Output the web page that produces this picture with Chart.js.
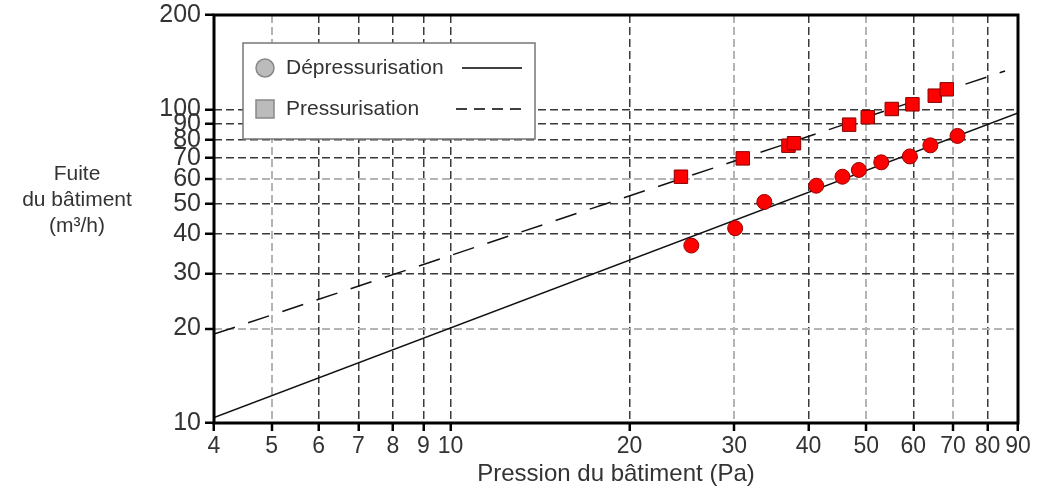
<!DOCTYPE html>
<html>
<head>
<meta charset="utf-8">
<script src="https://cdn.jsdelivr.net/npm/chart.js@4/dist/chart.umd.min.js"></script>
<style>
  html, body { margin: 0; padding: 0; background: #fff; }
  #wrap { position: relative; width: 1045px; height: 489px; }
  #ytitle {
    position: absolute; left: 0; top: 160px; width: 154px;
    text-align: center; font: 21px "Liberation Sans", Arial, sans-serif;
    line-height: 26px; color: #333;
  }
</style>
</head>
<body>
<div id="wrap">
  <canvas id="leakChart" width="1045" height="489"></canvas>
  <div id="ytitle">Fuite<br>du bâtiment<br>(m³/h)</div>
</div>
<script>
// measured points (Pa, m3/h)
const depPressure = [25.4, 30.1, 33.7, 41.2, 45.6, 48.6, 53.0, 59.2, 64.1, 71.2];
const depFlow = [36.8, 41.8, 50.7, 57.1, 61.0, 64.1, 67.8, 70.8, 76.8, 82.3];
const presPressure = [24.4, 31.0, 37.0, 37.8, 46.8, 50.3, 55.2, 59.8, 65.2, 68.3];
const presFlow = [61.0, 69.8, 76.6, 78.0, 89.4, 94.4, 100.3, 103.8, 110.6, 115.9];

// fitted lines (end points)
const depFitPressure = [4, 90];
const depFitFlow = [10.4, 97.5];
const presFitPressure = [4, 85.6];
const presFitFlow = [19.2, 132.6];

const xTicks = [4, 5, 6, 7, 8, 9, 10, 20, 30, 40, 50, 60, 70, 80, 90];
const yTicks = [10, 20, 30, 40, 50, 60, 70, 80, 90, 100, 200];
const xLightGrid = [5, 30, 50, 70];
const yLightGrid = [20, 60];

const toPoints = (xs, ys) => xs.map((x, i) => ({ x: x, y: ys[i] }));

const font = '"Liberation Sans", Arial, sans-serif';
const textColor = '#333';

const gridColor = (light) => (ctx) => {
  if (!ctx.tick) return '#3a3a3a';
  return light.includes(ctx.tick.value) ? '#b4b4b4' : '#3a3a3a';
};
const gridWidth = (light) => (ctx) => {
  if (!ctx.tick) return 1.5;
  return light.includes(ctx.tick.value) ? 2 : 1.5;
};

// legend box inside the plot + frame
const legendFrame = {
  id: 'legendFrame',
  afterDraw(chart) {
    const { ctx, chartArea: a } = chart;
    ctx.save();
    // frame
    ctx.strokeStyle = '#000';
    ctx.lineWidth = 3;
    ctx.setLineDash([]);
    ctx.strokeRect(a.left, a.top, a.right - a.left, a.bottom - a.top);

    // legend
    const bx = a.left + 29, by = a.top + 28, bw = 292, bh = 96;
    ctx.fillStyle = '#fff';
    ctx.fillRect(bx, by, bw, bh);
    ctx.strokeStyle = '#777';
    ctx.lineWidth = 1.5;
    ctx.strokeRect(bx, by, bw, bh);

    const rows = [
      { label: chart.data.datasets[0].label, y: by + 25, marker: 'circle', dash: [] },
      { label: chart.data.datasets[1].label, y: by + 66, marker: 'square', dash: [11, 7] }
    ];
    rows.forEach(r => {
      ctx.fillStyle = '#bbb';
      ctx.strokeStyle = '#888';
      ctx.lineWidth = 1.5;
      ctx.setLineDash([]);
      if (r.marker === 'circle') {
        ctx.beginPath();
        ctx.arc(bx + 22, r.y, 9, 0, Math.PI * 2);
        ctx.fill();
        ctx.stroke();
      } else {
        ctx.fillRect(bx + 13, r.y - 9, 18, 18);
        ctx.strokeRect(bx + 13, r.y - 9, 18, 18);
      }
      ctx.fillStyle = textColor;
      ctx.font = '21px ' + font;
      ctx.textBaseline = 'middle';
      ctx.textAlign = 'left';
      ctx.fillText(r.label, bx + 43, r.y);
      ctx.strokeStyle = '#000';
      ctx.lineWidth = 1.5;
      ctx.setLineDash(r.dash);
      ctx.beginPath();
      ctx.moveTo(bx + (r.dash.length ? 213 : 219), r.y);
      ctx.lineTo(bx + 279, r.y);
      ctx.stroke();
    });
    ctx.restore();
  }
};

new Chart(document.getElementById('leakChart'), {
  type: 'scatter',
  data: {
    datasets: [
      {
        label: 'Dépressurisation',
        data: toPoints(depPressure, depFlow),
        pointStyle: 'circle',
        pointRadius: 7.5,
        backgroundColor: '#ff0000',
        borderColor: '#990000',
        borderWidth: 1,
        order: 0
      },
      {
        label: 'Pressurisation',
        data: toPoints(presPressure, presFlow),
        pointStyle: 'rect',
        pointRadius: 9.5,
        backgroundColor: '#ff0000',
        borderColor: '#880000',
        borderWidth: 1,
        order: 0
      },
      {
        label: 'fit dep',
        data: toPoints(depFitPressure, depFitFlow),
        showLine: true,
        pointRadius: 0,
        borderColor: '#111',
        borderWidth: 1.5,
        order: 1
      },
      {
        label: 'fit pres',
        data: toPoints(presFitPressure, presFitFlow),
        showLine: true,
        pointRadius: 0,
        borderColor: '#111',
        borderWidth: 1.5,
        borderDash: [22, 14],
        order: 1
      }
    ]
  },
  options: {
    responsive: false,
    devicePixelRatio: 1,
    animation: false,
    layout: { padding: { top: 15, right: 27, left: 0, bottom: 0 } },
    plugins: {
      legend: { display: false },
      tooltip: { enabled: false }
    },
    scales: {
      x: {
        type: 'logarithmic',
        min: 4,
        max: 90,
        afterBuildTicks: (scale) => { scale.ticks = xTicks.map(v => ({ value: v })); },
        afterFit: (scale) => {
          scale.height = 66;
          scale.paddingLeft = 0;
          scale.paddingRight = 0;
        },
        ticks: {
          autoSkip: false,
          maxRotation: 0,
          padding: 2,
          color: textColor,
          font: { family: font, size: 23 },
          callback: (v) => String(v)
        },
        grid: {
          color: gridColor(xLightGrid),
          lineWidth: gridWidth(xLightGrid),
          tickColor: '#000',
          tickWidth: 2.5,
          tickLength: 8
        },
        border: { display: false, dash: [8, 4] },
        title: {
          display: true,
          text: 'Pression du bâtiment (Pa)',
          color: textColor,
          font: { family: font, size: 24 },
          padding: { top: 0, bottom: 0 }
        }
      },
      y: {
        type: 'logarithmic',
        min: 10,
        max: 200,
        afterBuildTicks: (scale) => { scale.ticks = yTicks.map(v => ({ value: v })); },
        afterFit: (scale) => {
          scale.width = 214;
          scale.paddingTop = 0;
          scale.paddingBottom = 0;
        },
        ticks: {
          autoSkip: false,
          padding: 4,
          color: textColor,
          font: { family: font, size: 25 },
          callback: (v) => String(v)
        },
        grid: {
          color: gridColor(yLightGrid),
          lineWidth: gridWidth(yLightGrid),
          tickColor: '#000',
          tickWidth: 2.5,
          tickLength: 9
        },
        border: { display: false, dash: [8, 4] }
      }
    }
  },
  plugins: [legendFrame]
});
</script>
</body>
</html>
